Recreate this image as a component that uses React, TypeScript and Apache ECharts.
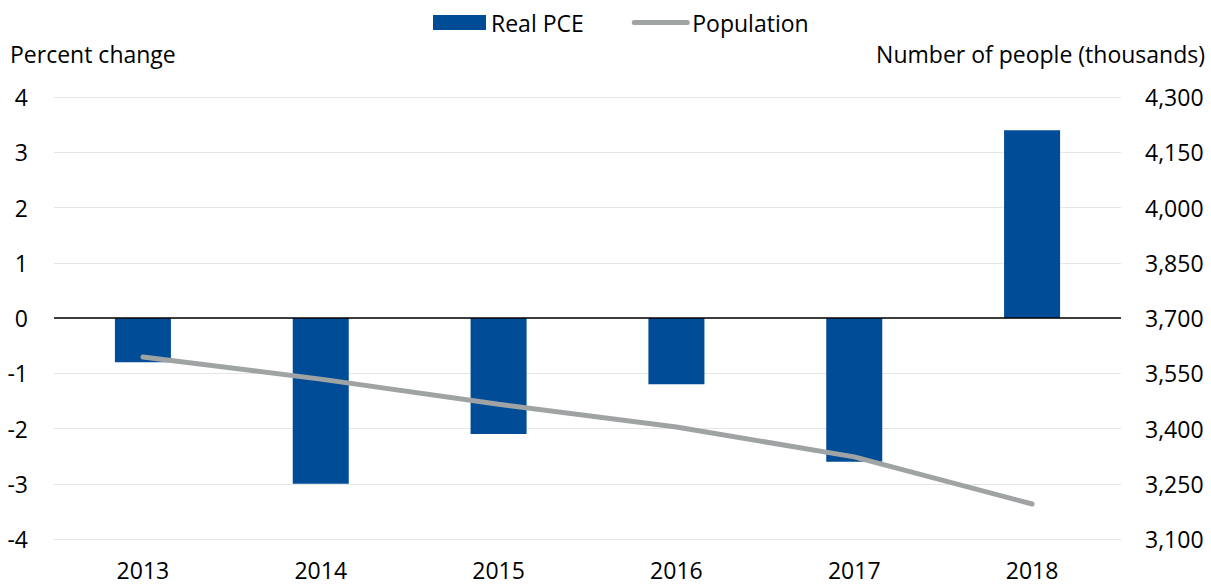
import React, { useEffect, useRef } from "react";
import * as echarts from "echarts";

const years = ["2013", "2014", "2015", "2016", "2017", "2018"];
const realPCE = [-0.8, -3.0, -2.1, -1.2, -2.6, 3.4];
const population = [3594, 3534, 3466, 3404, 3323, 3195];
const leftTicks = { min: -4, max: 4, interval: 1 };
const rightTicks = { min: 3100, max: 4300, interval: 150 };

const FONT = "Open Sans";
const FS = 23;

export default function App() {
  const ref = useRef<HTMLDivElement>(null);
  useEffect(() => {
    if (!ref.current) return;
    const chart = echarts.init(ref.current, undefined, { renderer: "svg" });
    chart.setOption({
      animation: false,
      textStyle: { fontFamily: FONT, color: "#000" },
      legend: {
        top: 6,
        left: 428,
        itemGap: 48,
        itemWidth: 53,
        itemHeight: 15,
        textStyle: { fontSize: FS, color: "#000", fontFamily: FONT },
        data: [
          { name: "Real PCE", icon: "rect" },
          {
            name: "Population",
            itemStyle: { opacity: 0 },
            lineStyle: { width: 5, cap: "round", color: "#A0A3A4" },
          },
        ],
      },
      grid: { left: 54, right: 90, top: 97, bottom: 45 },
      graphic: [
        {
          type: "text",
          left: 10,
          top: 42,
          style: { text: "Percent change", fontSize: FS, fontFamily: FONT, fill: "#000" },
        },
        {
          type: "text",
          right: 6,
          top: 42,
          style: { text: "Number of people (thousands)", fontSize: FS, fontFamily: FONT, fill: "#000" },
        },
      ],
      xAxis: {
        type: "category",
        data: years,
        axisLine: { show: false, onZero: false },
        axisTick: { show: false },
        axisLabel: { fontSize: FS, lineHeight: 23, color: "#000", fontFamily: FONT, margin: 19 },
      },
      yAxis: [
        {
          type: "value",
          ...leftTicks,
          axisLine: { show: false },
          axisTick: { show: false },
          splitLine: { lineStyle: { color: "#e6e6e6", width: 1 } },
          axisLabel: { fontSize: FS, color: "#000", fontFamily: FONT, margin: 26 },
        },
        {
          type: "value",
          ...rightTicks,
          position: "right",
          axisLine: { show: false },
          axisTick: { show: false },
          splitLine: { show: false },
          axisLabel: {
            fontSize: FS,
            color: "#000",
            fontFamily: FONT,
            margin: 24,
            formatter: (v: number) => v.toLocaleString("en-US"),
          },
        },
      ],
      series: [
        {
          name: "Real PCE",
          type: "bar",
          data: realPCE,
          barWidth: "31.5%",
          itemStyle: { color: "#004C97" },
          markLine: {
            silent: true,
            symbol: "none",
            label: { show: false },
            lineStyle: { color: "#000", width: 1.5, type: "solid" },
            data: [{ yAxis: 0 }],
          },
        },
        {
          name: "Population",
          type: "line",
          yAxisIndex: 1,
          data: population,
          showSymbol: false,
          symbol: "none",
          lineStyle: { color: "#A0A3A4", width: 5, cap: "round" },
          itemStyle: { color: "#A0A3A4" },
        },
      ],
    });
    return () => chart.dispose();
  }, []);
  return <div ref={ref} style={{ width: 1211, height: 584, position: "absolute", left: 0, top: 0 }} />;
}
